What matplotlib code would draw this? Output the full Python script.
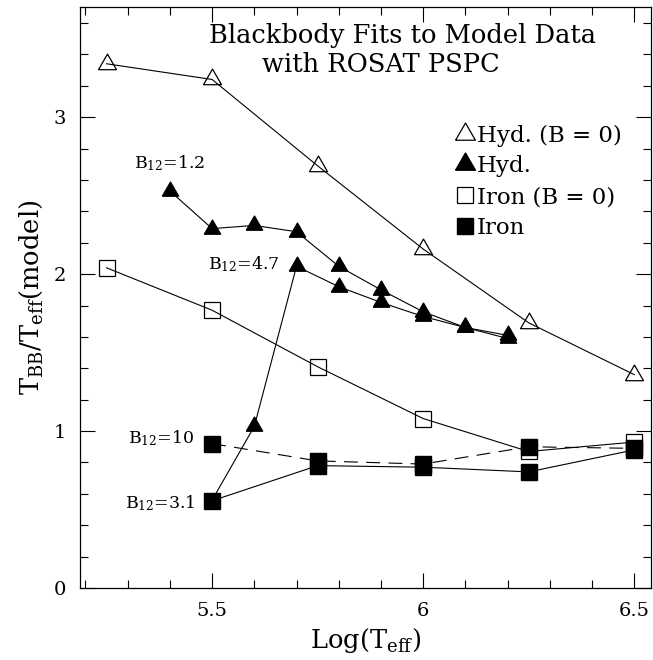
import matplotlib
matplotlib.use("Agg")
import matplotlib.pyplot as plt
from matplotlib.lines import Line2D

plt.rcParams['font.family'] = 'DejaVu Serif'
plt.rcParams['mathtext.fontset'] = 'dejavuserif'

# Hydrogen, B = 0
hyd0_x = [5.25, 5.5, 5.75, 6.0, 6.25, 6.5]
hyd0_y = [3.34, 3.24, 2.69, 2.16, 1.69, 1.36]

# Hydrogen, B12 = 1.2
hyd12_x = [5.4, 5.5, 5.6, 5.7, 5.8, 5.9, 6.0, 6.1, 6.2]
hyd12_y = [2.53, 2.29, 2.31, 2.27, 2.05, 1.90, 1.76, 1.66, 1.61]

# Hydrogen, B12 = 4.7 (first point sits under the iron square)
hyd47_x = [5.5, 5.6, 5.7, 5.8, 5.9, 6.0, 6.1, 6.2]
hyd47_y = [0.56, 1.03, 2.05, 1.92, 1.82, 1.73, 1.66, 1.59]

# Iron, B = 0
iron0_x = [5.25, 5.5, 5.75, 6.0, 6.25, 6.5]
iron0_y = [2.04, 1.77, 1.41, 1.08, 0.87, 0.93]

# Iron, B12 = 3.1
iron31_x = [5.5, 5.75, 6.0, 6.25, 6.5]
iron31_y = [0.556, 0.78, 0.77, 0.74, 0.88]

# Iron, B12 = 10
iron10_x = [5.5, 5.75, 6.0, 6.25, 6.5]
iron10_y = [0.92, 0.81, 0.79, 0.90, 0.89]

legend_labels = ['Hyd. (B = 0)', 'Hyd.', 'Iron (B = 0)', 'Iron']

# equilateral triangle marker (closed path)
tri = [(-1, -0.577), (1, -0.577), (0, 1.155), (-1, -0.577)]
lw = 0.8

fig = plt.figure(figsize=(6.53, 6.60), dpi=100)
ax = fig.add_axes([0.1225, 0.109, 0.8745, 0.880])

ax.plot(hyd0_x, hyd0_y, color='black', lw=lw, marker=tri, ms=15,
        mfc='none', mec='black', mew=0.9)
ax.plot(iron0_x, iron0_y, color='black', lw=lw, marker='s', ms=11.2,
        mfc='none', mec='black', mew=0.9)
ax.plot(hyd12_x, hyd12_y, color='black', lw=lw, marker=tri, ms=13.5,
        mfc='black', mec='black')
ax.plot(hyd47_x, hyd47_y, color='black', lw=lw, marker=tri, ms=13.5,
        mfc='black', mec='black', markevery=slice(1, None))
ax.plot(iron10_x, iron10_y, color='black', lw=lw, ls=(0, (12.5, 7.5)),
        marker='s', ms=11.2, mfc='black', mec='black')
ax.plot(iron31_x, iron31_y, color='black', lw=lw, marker='s', ms=11.2,
        mfc='black', mec='black')

afs = 12.5
ax.text(5.483, 2.675, r'B$_{12}$=1.2', fontsize=afs, ha='right', va='baseline')
ax.text(5.661, 2.03, r'B$_{12}$=4.7', fontsize=afs, ha='right', va='baseline')
ax.text(5.457, 0.92, r'B$_{12}$=10', fontsize=afs, ha='right', va='baseline')
ax.text(5.462, 0.51, r'B$_{12}$=3.1', fontsize=afs, ha='right', va='baseline')

tfs = 18.5
ax.text(5.95, 3.475, 'Blackbody Fits to Model Data', fontsize=tfs,
        ha='center', va='baseline')
ax.text(5.90, 3.29, 'with ROSAT PSPC', fontsize=tfs,
        ha='center', va='baseline')

handles = [
    Line2D([], [], ls='none', marker=tri, ms=16.5, mfc='none', mec='black', mew=0.9),
    Line2D([], [], ls='none', marker=tri, ms=16.5, mfc='black', mec='black'),
    Line2D([], [], ls='none', marker='s', ms=11, mfc='none', mec='black', mew=0.9),
    Line2D([], [], ls='none', marker='s', ms=12, mfc='black', mec='black'),
]
ax.legend(handles, legend_labels, loc='upper left', bbox_to_anchor=(0.6575, 0.798),
          frameon=False, fontsize=16.5, handlelength=0.8, handletextpad=0.15,
          labelspacing=0.38, borderaxespad=0, borderpad=0)

ax.set_xlim(5.187, 6.54)
ax.set_ylim(0, 3.70)
ax.set_xticks([5.5, 6.0, 6.5])
ax.set_xticklabels(['5.5', '6', '6.5'])
ax.set_xticks([5.2 + 0.1 * i for i in range(14)], minor=True)
ax.set_yticks([0, 1, 2, 3])
ax.set_yticks([0.2 * i for i in range(19)], minor=True)
ax.tick_params(which='both', direction='in', top=True, right=True,
               labelsize=14, width=0.8)
ax.tick_params(which='major', length=11, pad=10)
ax.tick_params(which='minor', length=5.5)
for s in ax.spines.values():
    s.set_linewidth(0.9)

ax.set_xlabel(r'Log(T$_{\rm eff}$)', fontsize=18.5, labelpad=4)
ax.set_ylabel(r'T$_{\rm BB}$/T$_{\rm eff}$(model)', fontsize=18.5, labelpad=6)

fig.savefig('out.png', dpi=100)
